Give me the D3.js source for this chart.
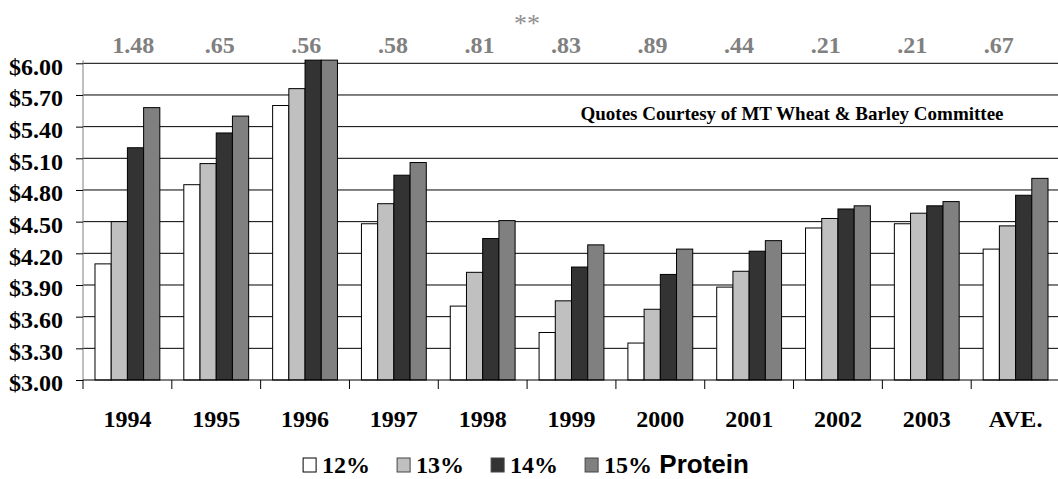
<!DOCTYPE html>
<html>
<head>
<meta charset="utf-8">
<title>Wheat protein prices</title>
<script src="https://d3js.org/d3.v7.min.js"></script>
<style>
body {
	margin: 0;
	background: #fff;
}
svg text {
	font-family: "Liberation Serif", "Times New Roman", serif;
	font-weight: bold;
}
.grid line {
	stroke: #000;
	stroke-width: 1px;
}
</style>
</head>
<body>
<svg id="chart" width="1058" height="479"></svg>
<script>
// values
var years = ["1994", "1995", "1996", "1997", "1998", "1999", "2000", "2001", "2002", "2003", "AVE."];
var p12 = [4.10, 4.85, 5.60, 4.48, 3.70, 3.45, 3.35, 3.88, 4.44, 4.48, 4.24];
var p13 = [4.50, 5.05, 5.76, 4.67, 4.02, 3.75, 3.67, 4.03, 4.53, 4.58, 4.46];
var p14 = [5.20, 5.34, 6.08, 4.94, 4.34, 4.07, 4.00, 4.22, 4.62, 4.65, 4.75];
var p15 = [5.58, 5.50, 6.16, 5.06, 4.51, 4.28, 4.24, 4.32, 4.65, 4.69, 4.91];
var spreads = ["1.48", ".65", ".56", ".58", ".81", ".83", ".89", ".44", ".21", ".21", ".67"];
var yTicks = [3.00, 3.30, 3.60, 3.90, 4.20, 4.50, 4.80, 5.10, 5.40, 5.70, 6.00];
var seriesNames = ["12%", "13%", "14%", "15%"];
var seriesFill = ["#ffffff", "#c0c0c0", "#333333", "#808080"];

var serif = "'Liberation Serif', 'Times New Roman', serif",
	sans = "'Liberation Sans', Arial, sans-serif";

var svg = d3.select("#chart"),
	margin = {top: 63.3, left: 83, bottom: 380, right: 1060};

var x = d3.scaleBand()
	.domain(years)
	.range([margin.left, margin.right]);

var xLabel = d3.scaleBand()
	.domain(years)
	.range([90, 1042]);

var x1 = d3.scaleBand()
	.domain(seriesNames)
	.range([x.bandwidth() * 0.135, x.bandwidth() * 0.865]);

var y = d3.scaleLinear()
	.domain([3, 6])
	.range([margin.bottom, margin.top]);

var z = d3.scaleOrdinal().domain(seriesNames).range(seriesFill);

var rows = years.map(function(yr, i) {
	return {year: yr, values: [p12[i], p13[i], p14[i], p15[i]]};
});

// gridlines
svg.append("g")
	.attr("class", "grid")
	.selectAll("line")
	.data(yTicks.slice(1))
	.enter().append("line")
	.attr("x1", margin.left)
	.attr("x2", margin.right)
	.attr("y1", d => y(d))
	.attr("y2", d => y(d));

// bars, clipped a little above the top like the original
var group = svg.append("g").selectAll("g")
	.data(rows)
	.enter().append("g")
	.attr("transform", d => "translate(" + x(d.year) + ",0)");

group.selectAll("rect")
	.data(d => d.values.map((v, j) => ({key: seriesNames[j], value: v})))
	.enter().append("rect")
	.attr("x", d => x1(d.key))
	.attr("width", x1.bandwidth())
	.attr("y", d => y(Math.min(d.value, 6.03)))
	.attr("height", d => y(3) - y(Math.min(d.value, 6.03)))
	.attr("fill", d => z(d.key))
	.attr("stroke", "#000")
	.attr("stroke-width", 1);

// y axis
var yAxis = svg.append("g")
	.attr("transform", "translate(" + margin.left + ",0)")
	.call(d3.axisLeft(y).tickValues(yTicks).tickSize(7).tickPadding(13)
		.tickFormat(d => "$" + d3.format(".2f")(d)));
yAxis.select(".domain").attr("stroke", "#808080").attr("d", "M0," + (margin.top - 3) + "V" + margin.bottom);
yAxis.selectAll(".tick line").attr("stroke", "#000");
yAxis.selectAll("text")
	.attr("font-size", 24)
	.attr("fill", "#000")
	.attr("dy", "0.45em");

// x axis
var xAxisG = svg.append("g").attr("transform", "translate(0," + margin.bottom + ")");
xAxisG.append("line")
	.attr("x1", margin.left).attr("x2", margin.right)
	.attr("stroke", "#000");
xAxisG.selectAll(".xtick")
	.data(years.concat(["end"]))
	.enter().append("line")
	.attr("x1", (d, i) => i < years.length ? x(d) : margin.right)
	.attr("x2", (d, i) => i < years.length ? x(d) : margin.right)
	.attr("y1", 0).attr("y2", 9)
	.attr("stroke", "#000");
xAxisG.selectAll(".xlab")
	.data(years)
	.enter().append("text")
	.attr("x", d => x(d) + x.bandwidth() / 2)
	.attr("y", 47)
	.attr("text-anchor", "middle")
	.attr("font-size", 24)
	.text(d => d);

// spread labels across the top
svg.append("g").selectAll("text")
	.data(years)
	.enter().append("text")
	.attr("x", d => xLabel(d) + xLabel.bandwidth() / 2)
	.attr("y", 53)
	.attr("text-anchor", "middle")
	.attr("font-size", 24)
	.attr("fill", "#808080")
	.text((d, i) => spreads[i]);

svg.append("text")
	.attr("x", 527)
	.attr("y", 32)
	.attr("text-anchor", "middle")
	.attr("font-size", 26)
	.attr("fill", "#909090")
	.style("font-weight", "normal")
	.text("**");

svg.append("text")
	.attr("x", 792)
	.attr("y", 120)
	.attr("text-anchor", "middle")
	.attr("font-size", 19)
	.text("Quotes Courtesy of MT Wheat & Barley Committee");

// legend
var legend = svg.append("g").attr("class", "legend");
var lx = 0;
seriesNames.forEach(function(name, i) {
	var item = legend.append("g").attr("transform", "translate(" + lx + ",0)");
	item.append("rect")
		.attr("x", 0).attr("y", -14.5)
		.attr("width", 13).attr("height", 14)
		.attr("fill", z(name))
		.attr("stroke", i == 0 ? "#000" : "#444");
	var t = item.append("text")
		.attr("x", 19)
		.attr("y", 0)
		.style("font-family", serif)
		.style("font-weight", "bold")
		.style("font-size", "24px");
	t.append("tspan")
		.style("font-family", serif)
		.text(name);
	if (i == seriesNames.length - 1) {
		t.append("tspan")
			.style("font-family", sans)
			.style("font-size", "26px")
			.text(" Protein");
	}
	lx += 19 + t.node().getComputedTextLength() + 27;
});
var lw = legend.node().getBBox().width;
legend.attr("transform", "translate(" + (526 - lw / 2) + ",472.5)");
</script>
</body>
</html>
